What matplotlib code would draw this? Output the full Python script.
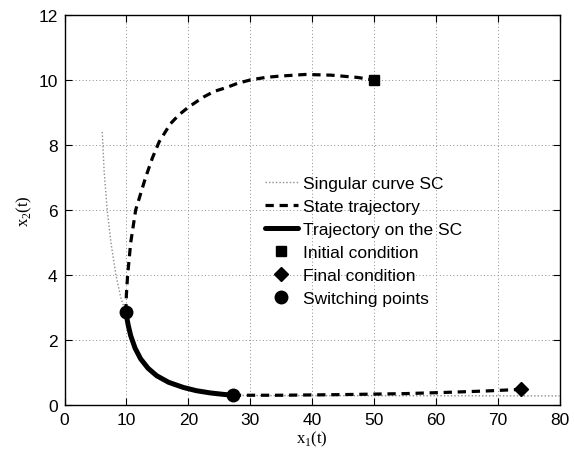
import matplotlib
matplotlib.use("Agg")
import matplotlib.pyplot as plt

plt.rcParams['font.family'] = ['Liberation Sans', 'DejaVu Sans']

# singular curve SC (upper branch, then along the trajectory, then flat)
sc_x = [6.1, 6.4, 6.9, 7.5, 8.3, 9.1, 9.9, 10.7, 12.3, 14.9, 19.2, 23.6, 27.2, 30.0, 80.0]
sc_y = [8.4, 7.2, 6.0, 5.0, 4.0, 3.3, 2.85, 2.13, 1.42, 0.9, 0.54, 0.37, 0.30, 0.29, 0.28]

# state trajectory, first arc (from initial condition to first switching point)
st1_x = [9.9, 10.0, 10.2, 10.7, 11.5, 13.1, 14.2, 15.3, 17.1, 18.5, 20.0, 22.4, 24.2,
         26.2, 28.0, 30.0, 32.5, 34.8, 38.9, 43.0, 47.3, 50.0]
st1_y = [2.85, 3.4, 4.0, 5.0, 6.0, 7.0, 7.6, 8.1, 8.65, 8.93, 9.16, 9.47, 9.65,
         9.77, 9.9, 10.0, 10.08, 10.12, 10.17, 10.15, 10.08, 10.0]

# state trajectory, last arc (second switching point to final condition)
st2_x = [27.2, 35.0, 45.0, 55.0, 62.0, 68.0, 73.7]
st2_y = [0.30, 0.30, 0.32, 0.35, 0.39, 0.43, 0.48]

# trajectory on the SC
on_x = [9.9, 10.3, 10.7, 11.4, 12.3, 13.5, 14.9, 16.8, 19.2, 21.3, 23.6, 25.5, 27.2]
on_y = [2.85, 2.45, 2.13, 1.75, 1.42, 1.13, 0.9, 0.7, 0.54, 0.44, 0.37, 0.33, 0.30]

init_pt = (50.0, 10.0)
final_pt = (73.7, 0.48)
switch_x = [9.9, 27.2]
switch_y = [2.85, 0.30]

fig = plt.figure(figsize=(5.74, 4.52), dpi=100)
ax = fig.add_axes([0.1124, 0.1018, 0.8624, 0.8628])

ax.plot(sc_x, sc_y, color='0.55', lw=1.0, linestyle=(0, (1, 1.5)), label='Singular curve SC')
ax.plot(st1_x, st1_y, color='black', lw=2.3, linestyle=(0, (2.6, 1.8)), label='State trajectory')
ax.plot(st2_x, st2_y, color='black', lw=2.3, linestyle=(0, (2.6, 1.8)))
ax.plot(on_x, on_y, color='black', lw=3.6, solid_capstyle='round', label='Trajectory on the SC')
ax.plot([init_pt[0]], [init_pt[1]], 's', color='black', ms=7, linestyle='none', label='Initial condition')
ax.plot([final_pt[0]], [final_pt[1]], 'D', color='black', ms=7, linestyle='none', label='Final condition')
ax.plot(switch_x, switch_y, 'o', color='black', ms=9, linestyle='none', label='Switching points')

ax.set_xlim(0, 80)
ax.set_ylim(0, 12)
ax.set_xticks(range(0, 81, 10))
ax.set_yticks(range(0, 13, 2))
ax.grid(True, color='0.55', linestyle=(0, (1, 2.5)), lw=0.7)
ax.tick_params(direction='in', top=True, right=True, length=5, labelsize=12.5, pad=5)
for s in ax.spines.values():
    s.set_linewidth(1.0)

ax.set_xlabel(r'x$_{\mathregular{1}}$(t)', family='Liberation Serif', fontsize=12, labelpad=1)
ax.set_ylabel(r'x$_{\mathregular{2}}$(t)', family='Liberation Serif', fontsize=12, labelpad=3)

ax.legend(loc='upper left', bbox_to_anchor=(0.405, 0.588), frameon=False, fontsize=12.5,
          borderpad=0, borderaxespad=0, handlelength=1.9, handletextpad=0.3, labelspacing=0.45)

fig.savefig('out.png', dpi=100)
